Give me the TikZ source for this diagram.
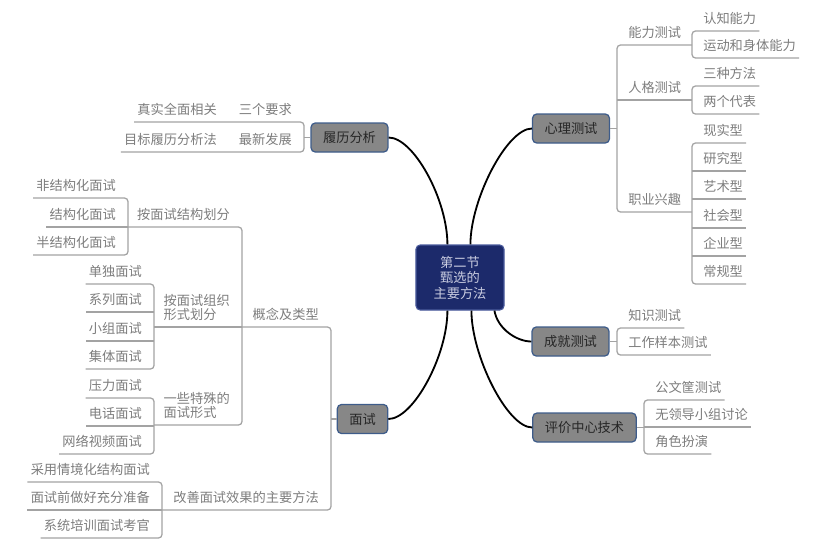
\documentclass[tikz,border=0pt]{standalone}
\usepackage{fontspec}
\setmainfont{Noto Sans CJK SC}
\usepackage{xcolor}
\usepackage{tikz}
\usetikzlibrary{calc}
\definecolor{hubblue}{HTML}{1C2A6B}
\definecolor{hubedge}{HTML}{4A5A9C}
\definecolor{hubtext}{HTML}{C9CCE0}
\definecolor{topicgray}{HTML}{878787}
\definecolor{topicedge}{HTML}{3E5C8A}
\definecolor{leafgray}{HTML}{7D7D7D}
\definecolor{twiggray}{HTML}{A3A3A3}

\begin{document}
\begin{tikzpicture}[
    x=0.025cm, y=-0.025cm,
    font=\fontsize{9.4pt}{11pt}\selectfont,
    hub/.style={draw=hubedge, line width=0.8pt, fill=hubblue, text=hubtext, rounded corners=3pt, minimum width=2.2cm, minimum height=1.625cm, align=center},
    topic/.style={draw=topicedge, line width=0.9pt, fill=topicgray, text=black!85, rounded corners=3pt, inner xsep=0.3cm, minimum height=0.725cm, text height=0.76em, text depth=0pt},
    leafR/.style={text=leafgray, anchor=south west, inner xsep=0.075cm, inner ysep=0.1875cm, text depth=0pt},
    leafL/.style={leafR, anchor=south east},
    twoline/.style={align=left, font=\fontsize{9.4pt}{10pt}\selectfont},
    twig/.style={draw=twiggray, line width=0.9pt, rounded corners=2.5pt},
    limb/.style={draw=black, line width=1.3pt}
]
\useasboundingbox (0,0) rectangle (830,549);

% Central topic and main branches
\node[hub] (ctr) at (460,277.5) {第二节\\甄选的\\主要方法};
\node[topic] (psy) at (571,128.5) {心理测试};
\node[topic] (ach) at (570.5,341.5) {成就测试};
\node[topic] (asc) at (584.5,427.5) {评价中心技术};
\node[topic] (res) at (349.5,137.5) {履历分析};
\node[topic] (itv) at (362.5,419) {面试};

\draw[limb] ($(ctr.north west)+(55,0)$) .. controls +(0,-45) and +(-25,0) .. (psy.west);
\draw[limb] ($(ctr.south west)+(79,0)$) .. controls +(3,18) and +(-15,0) .. (ach.west);
\draw[limb] ($(ctr.south west)+(56,0)$) .. controls +(0,45) and +(-25,0) .. (asc.west);
\draw[limb] ($(ctr.north west)+(32,0)$) .. controls +(0,-45) and +(25,0) .. (res.east);
\draw[limb] ($(ctr.south west)+(32,0)$) .. controls +(0,45) and +(25,0) .. (itv.east);

% Psychological tests
\coordinate (bPsy) at (617,0);
\coordinate (bPsy2) at (692,0);
\node[leafR] (abil) at (625,45) {能力测试};
\node[leafR] (pers) at (625,100) {人格测试};
\node[leafR] (voc) at (625,212) {职业兴趣};
\node[leafR] (cog) at (700,31) {认知能力};
\node[leafR] (motor) at (700,58) {运动和身体能力};
\node[leafR] (three) at (700,86) {三种方法};
\node[leafR] (two) at (700,114) {两个代表};
\node[leafR] (real) at (700,143) {现实型};
\node[leafR] (inv) at (700,171) {研究型};
\node[leafR] (art) at (700,199) {艺术型};
\node[leafR] (soc) at (700,228) {社会型};
\node[leafR] (ent) at (700,256) {企业型};
\node[leafR] (conv) at (700,284) {常规型};

\draw[twig] (psy.east) -- (psy.east -| bPsy);
\draw[twig] (bPsy2 |- abil.south) -- (bPsy |- abil.south) -- (bPsy |- voc.south) -- (bPsy2 |- voc.south);
\draw[twig] (bPsy |- pers.south) -- (bPsy2 |- pers.south);
\draw[twig] (cog.south east) -- (bPsy2 |- cog.south) -- (bPsy2 |- motor.south) -- (motor.south east);
\draw[twig] (three.south east) -- (bPsy2 |- three.south) -- (bPsy2 |- two.south) -- (two.south east);
\draw[twig] (real.south east) -- (bPsy2 |- real.south) -- (bPsy2 |- conv.south) -- (conv.south east);
\draw[twig] (bPsy2 |- inv.south) -- (inv.south east);
\draw[twig] (bPsy2 |- art.south) -- (art.south east);
\draw[twig] (bPsy2 |- soc.south) -- (soc.south east);
\draw[twig] (bPsy2 |- ent.south) -- (ent.south east);

% Achievement tests
\coordinate (bAch) at (617,0);
\node[leafR] (know) at (625,328) {知识测试};
\node[leafR] (work) at (625,355) {工作样本测试};
\draw[twig] (ach.east) -- (ach.east -| bAch);
\draw[twig] (know.south east) -- (bAch |- know.south) -- (bAch |- work.south) -- (work.south east);

% Assessment centre
\coordinate (bAsc) at (644,0);
\node[leafR] (inbox) at (652,400) {公文筐测试};
\node[leafR] (lgd) at (652,427) {无领导小组讨论};
\node[leafR] (role) at (652,454) {角色扮演};
\draw[twig] (asc.east) -- (asc.east -| bAsc);
\draw[twig] (inbox.south east) -- (bAsc |- inbox.south) -- (bAsc |- role.south) -- (role.south east);
\draw[twig] (bAsc |- lgd.south) -- (lgd.south east);

% Biographical data
\coordinate (bRes) at (304,0);
\node[leafL] (req) at (295,122) {三个要求};
\node[leafL] (trend) at (295,152) {最新发展};
\node[leafL] (truth) at (220,122) {真实全面相关};
\node[leafL] (target) at (220,152) {目标履历分析法};
\draw[twig] (res.west) -- (res.west -| bRes);
\draw[twig] (truth.south west) -- (bRes |- req.south) -- (bRes |- trend.south) -- (target.south west);

% Interview
\coordinate (bItv) at (331,0);
\coordinate (bType) at (242,0);
\coordinate (bStr) at (128,0);
\coordinate (bOrg) at (154,0);
\coordinate (bImp) at (162,0);
\node[leafL] (ctype) at (322,327) {概念及类型};
\node[leafL] (impr) at (322,510) {改善面试效果的主要方法};
\node[leafL] (bystr) at (233,227) {按面试结构划分};
\node[leafL, twoline] (byorg) at (233,327) {按面试组织\\形式划分};
\node[leafL, twoline] (spec) at (233,425) {一些特殊的\\面试形式};
\node[leafL] (unstr) at (119,198) {非结构化面试};
\node[leafL] (str) at (119,227) {结构化面试};
\node[leafL] (semi) at (119,255) {半结构化面试};
\node[leafL] (single) at (145,284) {单独面试};
\node[leafL] (serial) at (145,312) {系列面试};
\node[leafL] (panel) at (145,341) {小组面试};
\node[leafL] (group) at (145,369) {集体面试};
\node[leafL] (stress) at (145,398) {压力面试};
\node[leafL] (phone) at (145,426) {电话面试};
\node[leafL] (video) at (145,454) {网络视频面试};
\node[leafL] (situ) at (153,482) {采用情境化结构面试};
\node[leafL] (prep) at (153,510) {面试前做好充分准备};
\node[leafL] (train) at (153,538) {系统培训面试考官};

\draw[twig] (itv.west) -- (itv.west -| bItv);
\draw[twig] (bType |- ctype.south) -- (bItv |- ctype.south) -- (bItv |- impr.south) -- (bImp |- impr.south);
\draw[twig] (bStr |- bystr.south) -- (bType |- bystr.south) -- (bType |- spec.south) -- (bOrg |- spec.south);
\draw[twig] (bType |- byorg.south) -- (bOrg |- byorg.south);
\draw[twig] (unstr.south west) -- (bStr |- unstr.south) -- (bStr |- semi.south) -- (semi.south west);
\draw[twig] (bStr |- str.south) -- (str.south west);
\draw[twig] (single.south west) -- (bOrg |- single.south) -- (bOrg |- group.south) -- (group.south west);
\draw[twig] (bOrg |- serial.south) -- (serial.south west);
\draw[twig] (bOrg |- panel.south) -- (panel.south west);
\draw[twig] (stress.south west) -- (bOrg |- stress.south) -- (bOrg |- video.south) -- (video.south west);
\draw[twig] (bOrg |- phone.south) -- (phone.south west);
\draw[twig] (situ.south west) -- (bImp |- situ.south) -- (bImp |- train.south) -- (train.south west);
\draw[twig] (bImp |- prep.south) -- (prep.south west);
\end{tikzpicture}
\end{document}
